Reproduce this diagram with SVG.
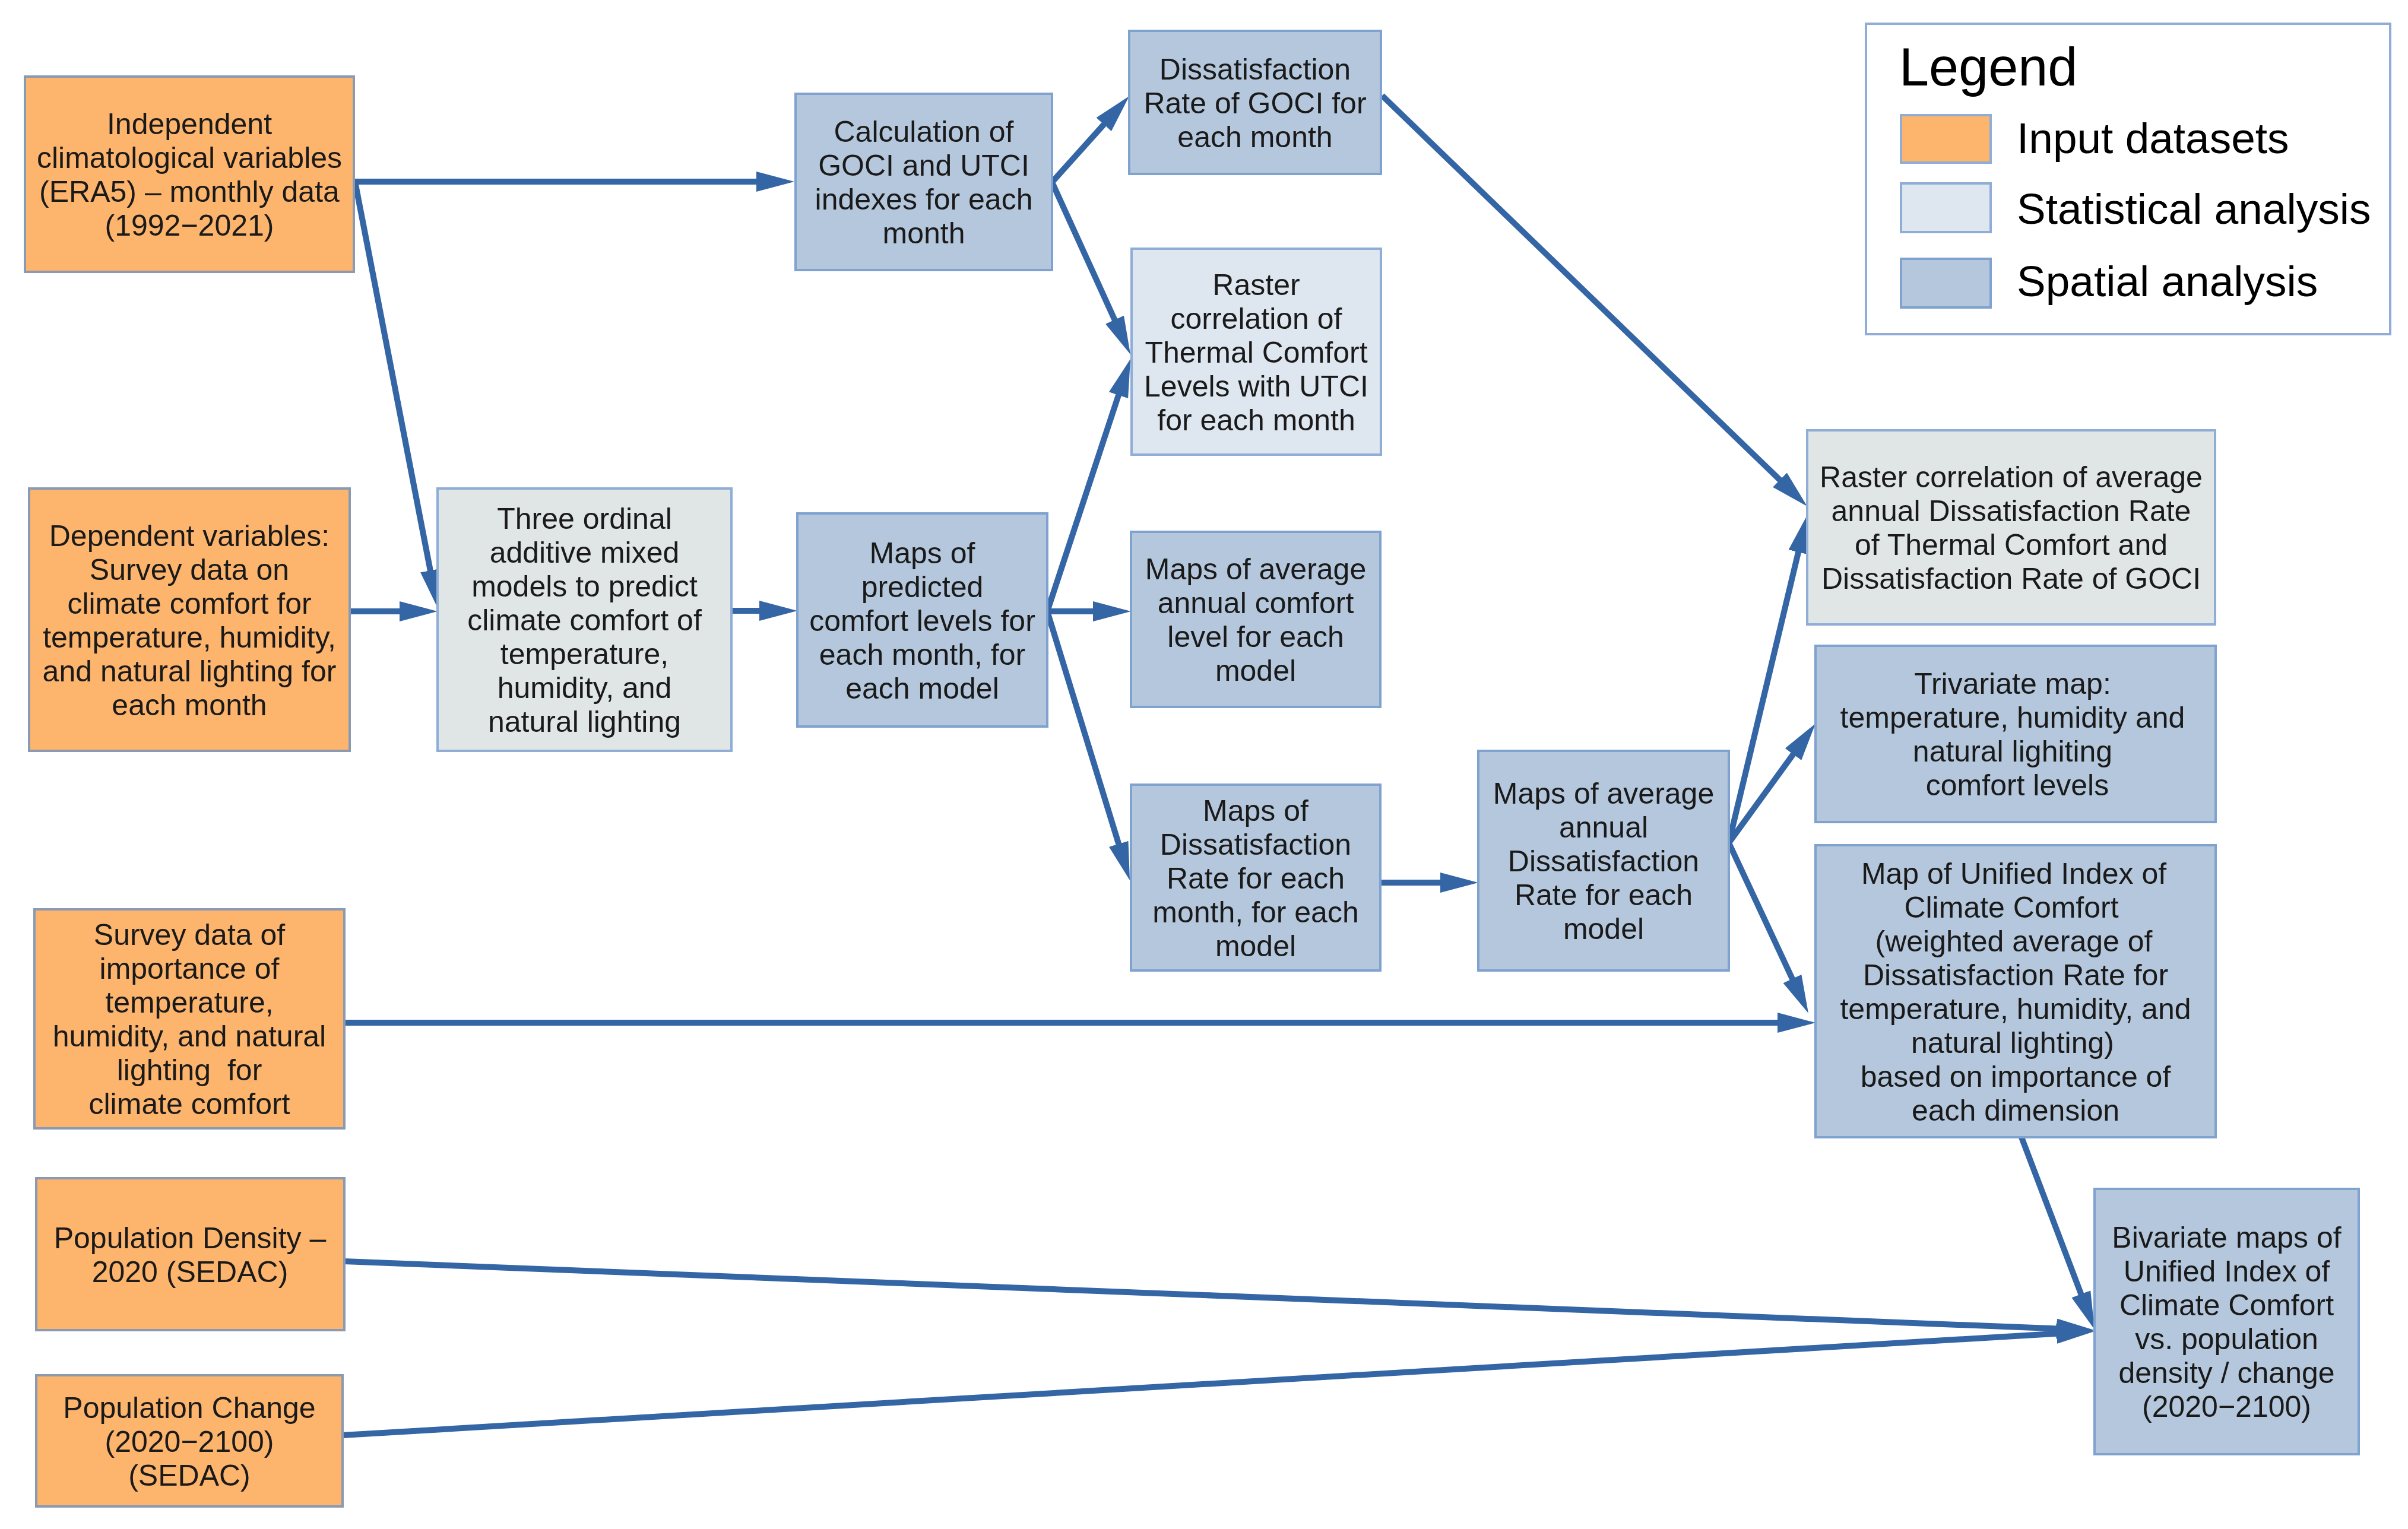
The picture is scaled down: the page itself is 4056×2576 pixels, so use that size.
<svg xmlns="http://www.w3.org/2000/svg" width="4056" height="2576" viewBox="0 0 4056 2576">
<defs>
<style>
.inp{fill:#FDB46C;stroke:#8A9AB3;stroke-width:4}
.sp{fill:#B4C7DC;stroke:#7FA2CF;stroke-width:4}
.st{fill:#DEE6EF;stroke:#8FADD6;stroke-width:4}
.stg{fill:#DFE6E5;stroke:#8FADD6;stroke-width:4}
.t{font-family:"Liberation Sans",Arial,sans-serif;font-size:50px;fill:#1a1a1a;text-anchor:middle}
.lg{font-family:"Liberation Sans",Arial,sans-serif;fill:#000}
.c{fill:none;stroke:#3465A4;stroke-width:10;marker-end:url(#ah)}
.cn{fill:none;stroke:#3465A4;stroke-width:10}
</style>
<marker id="ah" markerUnits="userSpaceOnUse" markerWidth="64" markerHeight="36" refX="34" refY="17" orient="auto">
<path d="M0,0 L64,17 L0,34 z" fill="#3465A4"/>
</marker>
</defs>
<rect width="4056" height="2576" fill="#fff"/>

<g id="connectors">
<line class="c" x1="596" y1="306" x2="1308" y2="306"/>
<line class="c" x1="598" y1="306" x2="731.3" y2="994.5"/>
<line class="c" x1="589" y1="1030" x2="707" y2="1030"/>
<line class="c" x1="1232" y1="1029" x2="1313" y2="1029"/>
<line class="c" x1="1772" y1="307" x2="1882" y2="184.4"/>
<line class="c" x1="1772" y1="307" x2="1891.6" y2="569.7"/>
<line class="c" x1="1764" y1="1030" x2="1894.6" y2="633.5"/>
<line class="c" x1="1764" y1="1030" x2="1875" y2="1030"/>
<line class="c" x1="1764" y1="1030" x2="1894.2" y2="1454.3"/>
<line class="c" x1="2325" y1="1487" x2="2460" y2="1487"/>
<line class="c" x1="2328" y1="161" x2="3022.4" y2="832.2"/>
<line class="c" x1="2912" y1="1420" x2="3037" y2="897.2"/>
<line class="c" x1="2912" y1="1420" x2="3040.4" y2="1243.3"/>
<line class="c" x1="2912" y1="1420" x2="3033.3" y2="1679.8"/>
<line class="c" x1="580" y1="1723" x2="3028" y2="1723"/>
<line class="c" x1="3405" y1="1916" x2="3517.4" y2="2212"/>
<line class="c" x1="580" y1="2125" x2="3498" y2="2239.8"/>
<line class="c" x1="577" y1="2418" x2="3498.1" y2="2244.8"/>
</g>

<g id="n-independent">
<rect class="inp" x="42" y="129" width="554" height="329"/>
<text class="t"><tspan x="319" y="226">Independent</tspan><tspan x="319" y="283">climatological variables</tspan><tspan x="319" y="340">(ERA5) – monthly data</tspan><tspan x="319" y="397">(1992−2021)</tspan></text>
</g>

<g id="n-dependent">
<rect class="inp" x="49" y="823" width="540" height="442"/>
<text class="t"><tspan x="319" y="919.5">Dependent variables:</tspan><tspan x="319" y="976.5">Survey data on</tspan><tspan x="319" y="1033.5">climate comfort for</tspan><tspan x="319" y="1090.5">temperature, humidity,</tspan><tspan x="319" y="1147.5">and natural lighting for</tspan><tspan x="319" y="1204.5">each month</tspan></text>
</g>

<g id="n-survey-importance">
<rect class="inp" x="58" y="1532" width="522" height="369"/>
<text class="t" xml:space="preserve"><tspan x="319" y="1592">Survey data of</tspan><tspan x="319" y="1649">importance of</tspan><tspan x="319" y="1706">temperature,</tspan><tspan x="319" y="1763">humidity, and natural</tspan><tspan x="319" y="1820">lighting  for</tspan><tspan x="319" y="1877">climate comfort</tspan></text>
</g>

<g id="n-popdensity">
<rect class="inp" x="61" y="1985" width="519" height="256"/>
<text class="t"><tspan x="320" y="2102.5">Population Density –</tspan><tspan x="320" y="2159.5">2020 (SEDAC)</tspan></text>
</g>

<g id="n-popchange">
<rect class="inp" x="61" y="2317" width="516" height="221"/>
<text class="t"><tspan x="319" y="2388.5">Population Change</tspan><tspan x="319" y="2445.5">(2020−2100)</tspan><tspan x="319" y="2502.5">(SEDAC)</tspan></text>
</g>

<g id="n-three-ordinal">
<rect class="stg" x="737" y="823" width="495" height="442"/>
<text class="t"><tspan x="984.5" y="891">Three ordinal</tspan><tspan x="984.5" y="948">additive mixed</tspan><tspan x="984.5" y="1005">models to predict</tspan><tspan x="984.5" y="1062">climate comfort of</tspan><tspan x="984.5" y="1119">temperature,</tspan><tspan x="984.5" y="1176">humidity, and</tspan><tspan x="984.5" y="1233">natural lighting</tspan></text>
</g>

<g id="n-calc">
<rect class="sp" x="1340" y="158" width="432" height="297"/>
<text class="t"><tspan x="1556" y="239">Calculation of</tspan><tspan x="1556" y="296">GOCI and UTCI</tspan><tspan x="1556" y="353">indexes for each</tspan><tspan x="1556" y="410">month</tspan></text>
</g>

<g id="n-predicted">
<rect class="sp" x="1343" y="865" width="421" height="359"/>
<text class="t"><tspan x="1553.5" y="948.5">Maps of</tspan><tspan x="1553.5" y="1005.5">predicted</tspan><tspan x="1553.5" y="1062.5">comfort levels for</tspan><tspan x="1553.5" y="1119.5">each month, for</tspan><tspan x="1553.5" y="1176.5">each model</tspan></text>
</g>

<g id="n-goci-dissat">
<rect class="sp" x="1902" y="52" width="424" height="241"/>
<text class="t"><tspan x="2114" y="133.5">Dissatisfaction</tspan><tspan x="2114" y="190.5">Rate of GOCI for</tspan><tspan x="2114" y="247.5">each month</tspan></text>
</g>

<g id="n-raster-monthly">
<rect class="st" x="1906" y="419" width="420" height="347"/>
<text class="t"><tspan x="2116" y="496.5">Raster</tspan><tspan x="2116" y="553.5">correlation of</tspan><tspan x="2116" y="610.5">Thermal Comfort</tspan><tspan x="2116" y="667.5">Levels with UTCI</tspan><tspan x="2116" y="724.5">for each month</tspan></text>
</g>

<g id="n-avg-comfort">
<rect class="sp" x="1905" y="896" width="420" height="295"/>
<text class="t"><tspan x="2115" y="976">Maps of average</tspan><tspan x="2115" y="1033">annual comfort</tspan><tspan x="2115" y="1090">level for each</tspan><tspan x="2115" y="1147">model</tspan></text>
</g>

<g id="n-dissat-maps">
<rect class="sp" x="1905" y="1322" width="420" height="313"/>
<text class="t"><tspan x="2115" y="1382.5">Maps of</tspan><tspan x="2115" y="1439.5">Dissatisfaction</tspan><tspan x="2115" y="1496.5">Rate for each</tspan><tspan x="2115" y="1553.5">month, for each</tspan><tspan x="2115" y="1610.5">model</tspan></text>
</g>

<g id="n-avg-dissat">
<rect class="sp" x="2490" y="1265" width="422" height="370"/>
<text class="t"><tspan x="2701" y="1354">Maps of average</tspan><tspan x="2701" y="1411">annual</tspan><tspan x="2701" y="1468">Dissatisfaction</tspan><tspan x="2701" y="1525">Rate for each</tspan><tspan x="2701" y="1582">model</tspan></text>
</g>

<g id="n-raster-avg">
<rect class="stg" x="3044" y="725" width="687" height="327"/>
<text class="t"><tspan x="3387.5" y="821">Raster correlation of average</tspan><tspan x="3387.5" y="878">annual Dissatisfaction Rate</tspan><tspan x="3387.5" y="935">of Thermal Comfort and</tspan><tspan x="3387.5" y="992">Dissatisfaction Rate of GOCI</tspan></text>
</g>

<g id="n-trivariate">
<rect class="sp" x="3058" y="1088" width="674" height="297"/>
<text class="t"><tspan x="3390" y="1169">Trivariate map:</tspan><tspan x="3390" y="1226">temperature, humidity and</tspan><tspan x="3390" y="1283">natural lighiting</tspan><tspan x="3398" y="1340">comfort levels</tspan></text>
</g>

<g id="n-unified">
<rect class="sp" x="3058" y="1424" width="674" height="492"/>
<text class="t"><tspan x="3392" y="1488.5">Map of Unified Index of</tspan><tspan x="3388" y="1545.5">Climate Comfort</tspan><tspan x="3392" y="1602.5">(weighted average of</tspan><tspan x="3395" y="1659.5">Dissatisfaction Rate for</tspan><tspan x="3395" y="1716.5">temperature, humidity, and</tspan><tspan x="3390" y="1773.5">natural lighting)</tspan><tspan x="3395" y="1830.5">based on importance of</tspan><tspan x="3395" y="1887.5">each dimension</tspan></text>
</g>

<g id="n-bivariate">
<rect class="sp" x="3528" y="2003" width="445" height="447"/>
<text class="t"><tspan x="3750.5" y="2102">Bivariate maps of</tspan><tspan x="3750.5" y="2159">Unified Index of</tspan><tspan x="3750.5" y="2216">Climate Comfort</tspan><tspan x="3750.5" y="2273">vs. population</tspan><tspan x="3750.5" y="2330">density / change</tspan><tspan x="3750.5" y="2387">(2020−2100)</tspan></text>
</g>

<g id="legend">
<rect x="3143" y="40" width="883" height="523" fill="#fff" stroke="#8FADD6" stroke-width="4"/>
<text class="lg" x="3199" y="144" font-size="90">Legend</text>
<rect class="inp" x="3202" y="194" width="151" height="80" style="stroke:#8FADD6"/>
<rect class="st" x="3202" y="309" width="151" height="82"/>
<rect class="sp" x="3202" y="436" width="151" height="82"/>
<text class="lg" x="3397" y="258" font-size="73">Input datasets</text>
<text class="lg" x="3397" y="377" font-size="73">Statistical analysis</text>
<text class="lg" x="3397" y="499" font-size="73">Spatial analysis</text>
</g>
</svg>
